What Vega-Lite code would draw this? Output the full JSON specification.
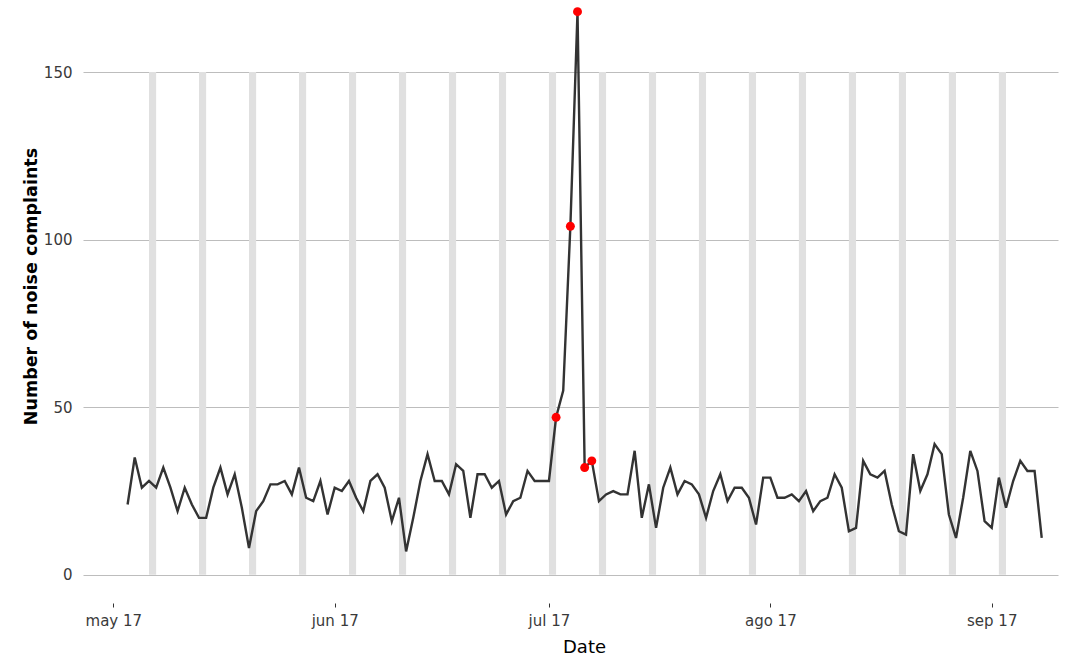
{
  "$schema": "https://vega.github.io/schema/vega-lite/v6.json",
  "width": 975,
  "height": 598,
  "autosize": {"type": "none"},
  "padding": {"left": 83, "top": 5, "right": 16, "bottom": 57},
  "background": "white",
  "config": {"view": {"stroke": null}, "font": "DejaVu Sans"},
  "datasets": {
    "weekends": [
      {"start": "2017-05-06", "end": "2017-05-07"},
      {"start": "2017-05-13", "end": "2017-05-14"},
      {"start": "2017-05-20", "end": "2017-05-21"},
      {"start": "2017-05-27", "end": "2017-05-28"},
      {"start": "2017-06-03", "end": "2017-06-04"},
      {"start": "2017-06-10", "end": "2017-06-11"},
      {"start": "2017-06-17", "end": "2017-06-18"},
      {"start": "2017-06-24", "end": "2017-06-25"},
      {"start": "2017-07-01", "end": "2017-07-02"},
      {"start": "2017-07-08", "end": "2017-07-09"},
      {"start": "2017-07-15", "end": "2017-07-16"},
      {"start": "2017-07-22", "end": "2017-07-23"},
      {"start": "2017-07-29", "end": "2017-07-30"},
      {"start": "2017-08-05", "end": "2017-08-06"},
      {"start": "2017-08-12", "end": "2017-08-13"},
      {"start": "2017-08-19", "end": "2017-08-20"},
      {"start": "2017-08-26", "end": "2017-08-27"},
      {"start": "2017-09-02", "end": "2017-09-03"}
    ],
    "complaints": [
      {"date": "2017-05-03", "n": 21, "event": false},
      {"date": "2017-05-04", "n": 35, "event": false},
      {"date": "2017-05-05", "n": 26, "event": false},
      {"date": "2017-05-06", "n": 28, "event": false},
      {"date": "2017-05-07", "n": 26, "event": false},
      {"date": "2017-05-08", "n": 32, "event": false},
      {"date": "2017-05-09", "n": 26, "event": false},
      {"date": "2017-05-10", "n": 19, "event": false},
      {"date": "2017-05-11", "n": 26, "event": false},
      {"date": "2017-05-12", "n": 21, "event": false},
      {"date": "2017-05-13", "n": 17, "event": false},
      {"date": "2017-05-14", "n": 17, "event": false},
      {"date": "2017-05-15", "n": 26, "event": false},
      {"date": "2017-05-16", "n": 32, "event": false},
      {"date": "2017-05-17", "n": 24, "event": false},
      {"date": "2017-05-18", "n": 30, "event": false},
      {"date": "2017-05-19", "n": 20, "event": false},
      {"date": "2017-05-20", "n": 8, "event": false},
      {"date": "2017-05-21", "n": 19, "event": false},
      {"date": "2017-05-22", "n": 22, "event": false},
      {"date": "2017-05-23", "n": 27, "event": false},
      {"date": "2017-05-24", "n": 27, "event": false},
      {"date": "2017-05-25", "n": 28, "event": false},
      {"date": "2017-05-26", "n": 24, "event": false},
      {"date": "2017-05-27", "n": 32, "event": false},
      {"date": "2017-05-28", "n": 23, "event": false},
      {"date": "2017-05-29", "n": 22, "event": false},
      {"date": "2017-05-30", "n": 28, "event": false},
      {"date": "2017-05-31", "n": 18, "event": false},
      {"date": "2017-06-01", "n": 26, "event": false},
      {"date": "2017-06-02", "n": 25, "event": false},
      {"date": "2017-06-03", "n": 28, "event": false},
      {"date": "2017-06-04", "n": 23, "event": false},
      {"date": "2017-06-05", "n": 19, "event": false},
      {"date": "2017-06-06", "n": 28, "event": false},
      {"date": "2017-06-07", "n": 30, "event": false},
      {"date": "2017-06-08", "n": 26, "event": false},
      {"date": "2017-06-09", "n": 16, "event": false},
      {"date": "2017-06-10", "n": 23, "event": false},
      {"date": "2017-06-11", "n": 7, "event": false},
      {"date": "2017-06-12", "n": 17, "event": false},
      {"date": "2017-06-13", "n": 28, "event": false},
      {"date": "2017-06-14", "n": 36, "event": false},
      {"date": "2017-06-15", "n": 28, "event": false},
      {"date": "2017-06-16", "n": 28, "event": false},
      {"date": "2017-06-17", "n": 24, "event": false},
      {"date": "2017-06-18", "n": 33, "event": false},
      {"date": "2017-06-19", "n": 31, "event": false},
      {"date": "2017-06-20", "n": 17, "event": false},
      {"date": "2017-06-21", "n": 30, "event": false},
      {"date": "2017-06-22", "n": 30, "event": false},
      {"date": "2017-06-23", "n": 26, "event": false},
      {"date": "2017-06-24", "n": 28, "event": false},
      {"date": "2017-06-25", "n": 18, "event": false},
      {"date": "2017-06-26", "n": 22, "event": false},
      {"date": "2017-06-27", "n": 23, "event": false},
      {"date": "2017-06-28", "n": 31, "event": false},
      {"date": "2017-06-29", "n": 28, "event": false},
      {"date": "2017-06-30", "n": 28, "event": false},
      {"date": "2017-07-01", "n": 28, "event": false},
      {"date": "2017-07-02", "n": 47, "event": true},
      {"date": "2017-07-03", "n": 55, "event": false},
      {"date": "2017-07-04", "n": 104, "event": true},
      {"date": "2017-07-05", "n": 168, "event": true},
      {"date": "2017-07-06", "n": 32, "event": true},
      {"date": "2017-07-07", "n": 34, "event": true},
      {"date": "2017-07-08", "n": 22, "event": false},
      {"date": "2017-07-09", "n": 24, "event": false},
      {"date": "2017-07-10", "n": 25, "event": false},
      {"date": "2017-07-11", "n": 24, "event": false},
      {"date": "2017-07-12", "n": 24, "event": false},
      {"date": "2017-07-13", "n": 37, "event": false},
      {"date": "2017-07-14", "n": 17, "event": false},
      {"date": "2017-07-15", "n": 27, "event": false},
      {"date": "2017-07-16", "n": 14, "event": false},
      {"date": "2017-07-17", "n": 26, "event": false},
      {"date": "2017-07-18", "n": 32, "event": false},
      {"date": "2017-07-19", "n": 24, "event": false},
      {"date": "2017-07-20", "n": 28, "event": false},
      {"date": "2017-07-21", "n": 27, "event": false},
      {"date": "2017-07-22", "n": 24, "event": false},
      {"date": "2017-07-23", "n": 17, "event": false},
      {"date": "2017-07-24", "n": 25, "event": false},
      {"date": "2017-07-25", "n": 30, "event": false},
      {"date": "2017-07-26", "n": 22, "event": false},
      {"date": "2017-07-27", "n": 26, "event": false},
      {"date": "2017-07-28", "n": 26, "event": false},
      {"date": "2017-07-29", "n": 23, "event": false},
      {"date": "2017-07-30", "n": 15, "event": false},
      {"date": "2017-07-31", "n": 29, "event": false},
      {"date": "2017-08-01", "n": 29, "event": false},
      {"date": "2017-08-02", "n": 23, "event": false},
      {"date": "2017-08-03", "n": 23, "event": false},
      {"date": "2017-08-04", "n": 24, "event": false},
      {"date": "2017-08-05", "n": 22, "event": false},
      {"date": "2017-08-06", "n": 25, "event": false},
      {"date": "2017-08-07", "n": 19, "event": false},
      {"date": "2017-08-08", "n": 22, "event": false},
      {"date": "2017-08-09", "n": 23, "event": false},
      {"date": "2017-08-10", "n": 30, "event": false},
      {"date": "2017-08-11", "n": 26, "event": false},
      {"date": "2017-08-12", "n": 13, "event": false},
      {"date": "2017-08-13", "n": 14, "event": false},
      {"date": "2017-08-14", "n": 34, "event": false},
      {"date": "2017-08-15", "n": 30, "event": false},
      {"date": "2017-08-16", "n": 29, "event": false},
      {"date": "2017-08-17", "n": 31, "event": false},
      {"date": "2017-08-18", "n": 21, "event": false},
      {"date": "2017-08-19", "n": 13, "event": false},
      {"date": "2017-08-20", "n": 12, "event": false},
      {"date": "2017-08-21", "n": 36, "event": false},
      {"date": "2017-08-22", "n": 25, "event": false},
      {"date": "2017-08-23", "n": 30, "event": false},
      {"date": "2017-08-24", "n": 39, "event": false},
      {"date": "2017-08-25", "n": 36, "event": false},
      {"date": "2017-08-26", "n": 18, "event": false},
      {"date": "2017-08-27", "n": 11, "event": false},
      {"date": "2017-08-28", "n": 23, "event": false},
      {"date": "2017-08-29", "n": 37, "event": false},
      {"date": "2017-08-30", "n": 31, "event": false},
      {"date": "2017-08-31", "n": 16, "event": false},
      {"date": "2017-09-01", "n": 14, "event": false},
      {"date": "2017-09-02", "n": 29, "event": false},
      {"date": "2017-09-03", "n": 20, "event": false},
      {"date": "2017-09-04", "n": 28, "event": false},
      {"date": "2017-09-05", "n": 34, "event": false},
      {"date": "2017-09-06", "n": 31, "event": false},
      {"date": "2017-09-07", "n": 31, "event": false},
      {"date": "2017-09-08", "n": 11, "event": false}
    ]
  },
  "layer": [
    {
      "data": {"name": "weekends"},
      "mark": {"type": "rect", "color": "#e0e0e0"},
      "encoding": {
        "x": {
          "field": "start",
          "type": "temporal",
          "title": "Date",
          "scale": {
            "type": "utc",
            "domain": [
              {"year": 2017, "month": 4, "date": 26, "hours": 18, "minutes": 10, "utc": true},
              {"year": 2017, "month": 9, "date": 10, "hours": 6, "minutes": 43, "utc": true}
            ]
          },
          "axis": {
            "values": [
              {"year": 2017, "month": 5, "date": 1, "utc": true},
              {"year": 2017, "month": 6, "date": 1, "utc": true},
              {"year": 2017, "month": 7, "date": 1, "utc": true},
              {"year": 2017, "month": 8, "date": 1, "utc": true},
              {"year": 2017, "month": 9, "date": 1, "utc": true}
            ],
            "labelExpr": "['ene','feb','mar','abr','may','jun','jul','ago','sep','oct','nov','dic'][utcmonth(datum.value)] + ' ' + utcFormat(datum.value, '%y')",
            "grid": false,
            "domain": false,
            "ticks": true,
            "tickColor": "#333333",
            "tickSize": 4,
            "labelPadding": 6,
            "labelFontSize": 15,
            "labelColor": "#3a3a3a",
            "labelFlush": false,
            "titleFontSize": 18,
            "titleFontWeight": "normal",
            "titleColor": "#000000",
            "titleX": 501,
            "titleY": 44,
            "titleAlign": "center",
            "titleBaseline": "middle"
          }
        },
        "x2": {"field": "end"},
        "y": {
          "datum": 0,
          "type": "quantitative",
          "title": "Number of noise complaints",
          "scale": {"domain": [-8.4, 170], "nice": false, "zero": false},
          "axis": {
            "values": [0, 50, 100, 150],
            "grid": true,
            "gridColor": "#bdbdbd",
            "gridWidth": 1,
            "domain": false,
            "ticks": false,
            "labelPadding": 11,
            "labelFontSize": 15,
            "labelColor": "#3a3a3a",
            "titleFontSize": 17.5,
            "titleFontWeight": "bold",
            "titleColor": "#000000",
            "titleAngle": -90,
            "titleX": -52,
            "titleY": 281,
            "titleAlign": "center",
            "titleBaseline": "middle"
          }
        },
        "y2": {"datum": 150}
      }
    },
    {
      "data": {"name": "complaints"},
      "mark": {"type": "line", "color": "#333333", "strokeWidth": 2.4},
      "encoding": {
        "x": {"field": "date", "type": "temporal", "title": "Date"},
        "y": {"field": "n", "type": "quantitative", "title": "Number of noise complaints"}
      }
    },
    {
      "data": {"name": "complaints"},
      "transform": [{"filter": "datum.event"}],
      "mark": {"type": "circle", "color": "#ff0000", "size": 80, "opacity": 1},
      "encoding": {
        "x": {"field": "date", "type": "temporal", "title": "Date"},
        "y": {"field": "n", "type": "quantitative", "title": "Number of noise complaints"}
      }
    }
  ]
}
